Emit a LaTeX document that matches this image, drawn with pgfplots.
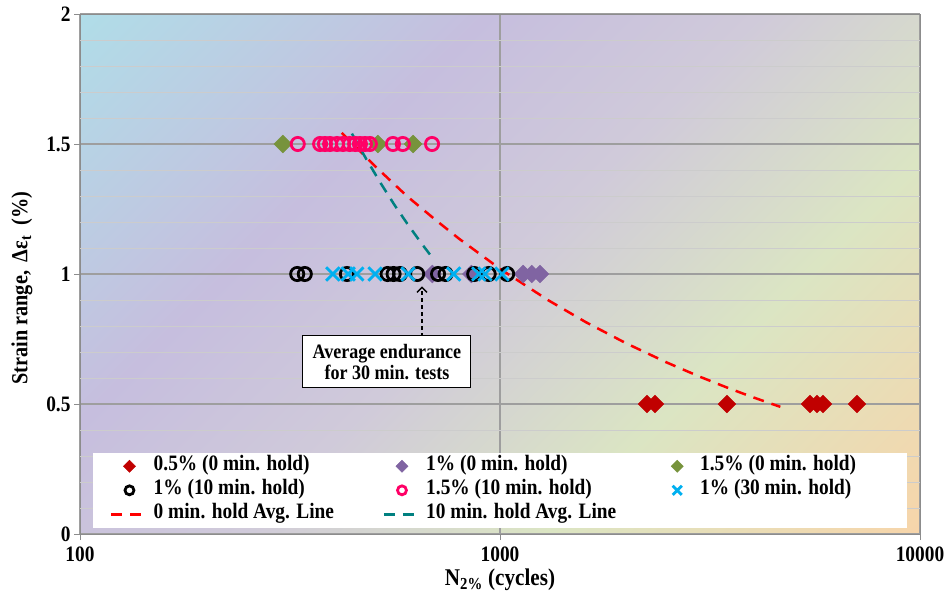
\documentclass[border=0pt]{standalone}
\usepackage{fontspec}
\setmainfont{Liberation Serif}[FakeStretch=0.88]
\usepackage{pgfplots}
\pgfplotsset{compat=1.18}
\usetikzlibrary{arrows.meta}

\definecolor{bgA}{RGB}{176,221,232}
\definecolor{bgB}{RGB}{198,190,222}
\definecolor{bgC}{RGB}{208,202,218}
\definecolor{bgD}{RGB}{219,229,195}
\definecolor{bgE}{RGB}{247,213,170}
\pgfdeclarehorizontalshading{bgshade}{100bp}{color(0bp)=(bgA); color(14.6bp)=(bgA); color(35.8bp)=(bgB); color(50bp)=(bgC); color(66bp)=(bgD); color(85.4bp)=(bgE); color(100bp)=(bgE)}

\definecolor{redd}{RGB}{192,0,0}
\definecolor{purp}{RGB}{128,100,162}
\definecolor{oliv}{RGB}{119,147,60}
\definecolor{pinkc}{RGB}{255,0,102}
\definecolor{cyanx}{RGB}{0,176,240}
\definecolor{redl}{RGB}{255,0,0}
\definecolor{tealc}{RGB}{0,128,128}

\begin{document}
\begin{tikzpicture}
\useasboundingbox (-80pt,-64pt) rectangle (871pt,534pt);
\begin{axis}[
  at={(0pt,0pt)}, anchor=south west,
  scale only axis, width=840pt, height=520pt,
  xmode=log, log basis x=10,
  xmin=100, xmax=10000, ymin=0, ymax=2,
  xtick={100,1000,10000}, xticklabels={100,1000,10000},
  ytick={0,0.5,1,1.5,2}, yticklabels={0,0.5,1,1.5,2},
  extra y ticks={0.1,0.2,0.3,0.4,0.6,0.7,0.8,0.9,1.1,1.2,1.3,1.4,1.6,1.7,1.8,1.9},
  extra y tick labels={},
  extra y tick style={major tick length=0pt, grid=major, major grid style={draw=black!20, line width=0.9pt}},
  grid=both,
  major grid style={draw=black!38, line width=1.1pt},
  minor grid style={draw=black!20, line width=0.9pt},
  axis line style={draw=black!45, line width=1pt},
  every tick/.style={draw=black!45, line width=1pt},
  tick align=outside, major tick length=6pt, minor tick length=6pt,
  tick pos=left,
  /pgf/number format/assume math mode=true,
  ticklabel style={font=\fontsize{22}{24}\selectfont\bfseries},
  x tick label style={yshift=-3pt},
  axis background/.style={shading=bgshade, shading angle=-45},
  xlabel={N\textsubscript{2\%} (cycles)},
  ylabel={Strain range, \,Δε\textsubscript{t} \ (\%)},
  x label style={at={(axis description cs:0.5,-0.088)}, anchor=center, font=\fontsize{24}{26}\selectfont\bfseries},
  y label style={at={(axis description cs:-0.069,0.473)}, anchor=center, font=\fontsize{23}{25}\selectfont\bfseries},
  legend columns=3,
  legend cell align=left,
  legend style={at={(rel axis cs:0.0155,0.0115)}, anchor=south west, fill=white, draw=none,
    inner xsep=17pt, inner ysep=2pt,
    font=\fontsize{22}{24}\selectfont\bfseries,
    nodes={inner xsep=3pt, inner ysep=2pt, text height=14pt, text depth=5pt},
    row sep=1pt, column sep=2pt},
  legend image code/.code={\path[draw=none,fill=none] (0pt,-4pt) rectangle (36pt,4pt);\draw[mark repeat=2,mark phase=2,#1,/tikz/every mark/.append style={scale=0.68}] plot coordinates {(0pt,0pt)(18pt,0pt)(36pt,0pt)};},
]
% 0.5% (0 min hold)
\addplot[only marks, mark=square*, mark size=6.3pt, color=redd, mark options={rotate=45, fill=redd, draw=redd}] coordinates {
(2239,0.5) (2339,0.5) (3470,0.5) (5471,0.5) (5685,0.5) (5875,0.5) (7079,0.5)};
% 1% (0 min hold)
\addplot[only marks, mark=square*, mark size=6.3pt, color=purp, mark options={rotate=45, fill=purp, draw=purp}] coordinates {
(690,1) (855,1) (1135,1) (1190,1) (1245,1)};
% 1.5% (0 min hold)
\addplot[only marks, mark=square*, mark size=6.3pt, color=oliv, mark options={rotate=45, fill=oliv, draw=oliv}] coordinates {
(304,1.5) (512,1.5) (621,1.5)};
% 1% (10 min hold)
\addplot[only marks, mark=o, mark size=6.6pt, color=black, mark options={line width=2.8pt, draw=black}] coordinates {
(329,1) (343,1) (432,1) (540,1) (558,1) (578,1) (635,1) (712,1) (742,1) (868,1) (940,1) (1040,1)};
% 1.5% (10 min hold)
\addplot[only marks, mark=o, mark size=6.6pt, color=pinkc, mark options={line width=2.8pt, draw=pinkc}] coordinates {
(330,1.5) (373,1.5) (383,1.5) (394,1.5) (409,1.5) (423,1.5) (439,1.5) (452,1.5) (464,1.5) (477,1.5) (490,1.5) (556,1.5) (587,1.5) (689,1.5)};
% 1% (30 min hold)
\addplot[only marks, mark=x, mark size=9.5pt, color=cyanx, mark options={line width=2.8pt, draw=cyanx}] coordinates {
(400,1) (435,1) (456,1) (504,1) (604,1) (776,1) (890,1) (921,1) (1011,1)};
% 0 min hold avg line
\addplot[redl, line width=2.5pt, dash pattern=on 11pt off 8pt, no marks] coordinates {
(420,1.543) (500,1.42) (600,1.30) (700,1.21) (800,1.135) (1000,1.02) (1300,0.90) (1600,0.815) (2000,0.733) (2500,0.659) (3000,0.604) (3500,0.561) (4000,0.526) (4650,0.489)};
% 10 min hold avg line
\addplot[tealc, line width=2.5pt, dash pattern=on 11pt off 8pt, no marks] coordinates {
(444,1.54) (480,1.443) (520,1.349) (560,1.267) (600,1.196) (650,1.118) (690,1.063)};
\legend{\makebox[224pt][l]{0.5\% (0 min. hold)}, \makebox[228pt][l]{1\% (0 min. hold)}, \makebox[187pt][l]{1.5\% (0 min. hold)}, \makebox[224pt][l]{1\% (10 min. hold)}, \makebox[228pt][l]{1.5\% (10 min. hold)}, \makebox[187pt][l]{1\% (30 min. hold)}, 0 min. hold Avg. Line, 10 min. hold Avg. Line}
\draw[line width=1.3pt, dash pattern=on 4pt off 3pt, -{Straight Barb[length=5pt,width=10pt]}] (axis cs:652,0.758) -- (axis cs:652,0.952);
\node[draw=black, line width=1pt, fill=white, align=center, minimum width=168pt, minimum height=52pt, inner sep=2pt, font=\fontsize{20.5}{21}\selectfont\bfseries] at (axis cs:538,0.663) {Average endurance\\for 30 min. tests};
\end{axis}
\end{tikzpicture}
\end{document}
